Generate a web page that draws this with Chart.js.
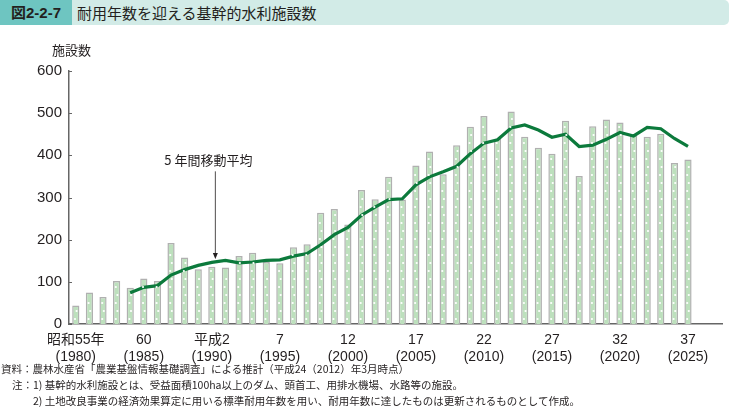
<!DOCTYPE html>
<html>
<head>
<meta charset="utf-8">
<script src="https://cdn.jsdelivr.net/npm/chart.js@4"></script>
<style>
  body { margin: 0; background: #fff; font-family: "Liberation Sans", "Noto Sans CJK JP", sans-serif; color: #231f20; }
  #wrap { position: relative; width: 730px; height: 409px; overflow: hidden; }
  #chart { position: absolute; left: 0; top: 0; }
  .hdr { position: absolute; top: 0; height: 25px; line-height: 25px; }
  #hdr-no { left: 0; width: 72px; background: #6ec5c1; font-weight: bold; font-size: 15px; text-align: center; font-family: "Liberation Sans", "Noto Sans CJK JP", sans-serif; }
  #hdr-title { left: 72px; right: 1px; background: #d2ebe7; border-radius: 0 5px 5px 0; padding-left: 5px; font-size: 15px; font-family: "Noto Sans CJK JP", sans-serif; }
  #unit { position: absolute; left: 52px; top: 40px; font-size: 13px; font-family: "Noto Sans CJK JP", sans-serif; }
  .note { position: absolute; font-size: 10.5px; white-space: nowrap; font-family: "Noto Sans CJK JP", sans-serif; line-height: 14px; }
</style>
</head>
<body>
<div id="wrap">
  <canvas id="chart" width="730" height="409"></canvas>
  <div class="hdr" id="hdr-no">図2-2-7</div>
  <div class="hdr" id="hdr-title">耐用年数を迎える基幹的水利施設数</div>
  <div id="unit">施設数</div>
  <div class="note" style="left:1px; top:362px;">資料：農林水産省「農業基盤情報基礎調査」による推計（平成24（2012）年3月時点）</div>
  <div class="note" style="left:12px; top:378px;">注：1) 基幹的水利施設とは、受益面積100ha以上のダム、頭首工、用排水機場、水路等の施設。</div>
  <div class="note" style="left:33px; top:394px;">2) 土地改良事業の経済効果算定に用いる標準耐用年数を用い、耐用年数に達したものは更新されるものとして作成。</div>
</div>
<script>
const years = [
  1980, 1981, 1982, 1983, 1984, 1985, 1986, 1987, 1988, 1989,
  1990, 1991, 1992, 1993, 1994, 1995, 1996, 1997, 1998, 1999,
  2000, 2001, 2002, 2003, 2004, 2005, 2006, 2007, 2008, 2009,
  2010, 2011, 2012, 2013, 2014, 2015, 2016, 2017, 2018, 2019,
  2020, 2021, 2022, 2023, 2024, 2025
];
const facilities = [
  44, 75, 64, 102, 86, 108, 102, 192, 158, 130,
  136, 134, 161, 169, 147, 144, 182, 189, 264, 273,
  236, 318, 296, 349, 295, 376, 409, 355, 424, 468,
  493, 439, 504, 444, 418, 404, 482, 351, 469, 485,
  478, 447, 444, 451, 382, 390
];
const movingAvg = [
  null, null, null, null, 74, 87, 91, 116, 129, 139,
  146, 151, 145, 147, 151, 152, 161, 167, 188, 212,
  229, 258, 277, 295, 297, 330, 349, 361, 374, 404,
  429, 437, 465, 472, 460, 443, 450, 421, 424, 438,
  454, 446, 466, 463, 440, 421
];
// one label every 5 years
const tickLabels = [
  ['昭和55年', '(1980)'], ['60', '(1985)'], ['平成2', '(1990)'], ['7', '(1995)'],
  ['12', '(2000)'], ['17', '(2005)'], ['22', '(2010)'], ['27', '(2015)'],
  ['32', '(2020)'], ['37', '(2025)']
];
const yTicks = [0, 100, 200, 300, 400, 500, 600];
const avgLabel = '5 年間移動平均';

// axis runs on for two empty years after 2025
const labels = years.map(String).concat(['', '']);

const FONT = '"Liberation Sans", "Noto Sans CJK JP", sans-serif';

const decoPlugin = {
  id: 'deco',
  afterDatasetsDraw(chart) {
    const ctx = chart.ctx;
    // white dots inside the bars
    const meta = chart.getDatasetMeta(1);
    ctx.save();
    ctx.fillStyle = '#ffffff';
    meta.data.forEach(bar => {
      const top = bar.y + 4, bottom = bar.base - 2;
      let k = 0;
      for (let py = bottom - 3; py > top; py -= 8) {
        const off = (k % 2 === 0) ? -0.8 : 0.8;
        ctx.beginPath();
        ctx.arc(bar.x + off, py, 1.1, 0, Math.PI * 2);
        ctx.fill();
        k++;
      }
    });
    ctx.restore();
  },
  afterDraw(chart) {
    const ctx = chart.ctx;
    const x = chart.scales.x, y = chart.scales.y;
    const area = chart.chartArea;
    ctx.save();
    // inner tick marks on the y axis
    ctx.strokeStyle = '#666';
    ctx.lineWidth = 1;
    yTicks.forEach(v => {
      const py = Math.round(y.getPixelForValue(v)) + 0.5;
      ctx.beginPath();
      ctx.moveTo(area.left, py);
      ctx.lineTo(area.left + 3, py);
      ctx.stroke();
    });
    // annotation for the moving average
    const ax = x.getPixelForValue(10) + 3.5;
    const yEnd = y.getPixelForValue(154);
    const yStart = y.getPixelForValue(362);
    ctx.strokeStyle = '#231f20';
    ctx.lineWidth = 0.8;
    ctx.beginPath();
    ctx.moveTo(ax, yStart);
    ctx.lineTo(ax, yEnd - 3);
    ctx.stroke();
    ctx.fillStyle = '#231f20';
    ctx.beginPath();
    ctx.moveTo(ax - 2.5, yEnd - 6);
    ctx.lineTo(ax + 2.5, yEnd - 6);
    ctx.lineTo(ax, yEnd);
    ctx.closePath();
    ctx.fill();
    ctx.font = '13px "Noto Sans CJK JP", sans-serif';
    ctx.textAlign = 'center';
    ctx.textBaseline = 'middle';
    ctx.fillText(avgLabel, ax - 7, y.getPixelForValue(389));
    ctx.restore();
  }
};

new Chart(document.getElementById('chart'), {
  data: {
    labels: labels,
    datasets: [
      {
        type: 'line',
        label: avgLabel,
        data: movingAvg,
        borderColor: '#0c7a3c',
        borderWidth: 3.2,
        pointRadius: 0,
        tension: 0,
        spanGaps: false,
        order: 0
      },
      {
        type: 'bar',
        label: '施設数',
        data: facilities,
        backgroundColor: '#bde0bd',
        borderColor: '#b0b0b0',
        borderWidth: { top: 1.5, left: 1.5, right: 1.5, bottom: 0 },
        categoryPercentage: 1,
        barPercentage: 0.53,
        order: 1
      }
    ]
  },
  options: {
    responsive: false,
    animation: false,
    layout: { padding: { left: 0, right: 8, top: 71, bottom: 0 } },
    plugins: { legend: { display: false }, tooltip: { enabled: false } },
    scales: {
      x: {
        grid: { display: false, drawTicks: false },
        border: { color: '#666', width: 1.5 },
        ticks: {
          autoSkip: false,
          maxRotation: 0,
          padding: 8,
          color: '#231f20',
          font: { family: FONT, size: 14, lineHeight: 1.22 },
          callback: (val, i) => (i % 5 === 0 && i / 5 < tickLabels.length) ? tickLabels[i / 5] : ''
        },
        afterFit: s => { s.height = 85; }
      },
      y: {
        min: 0,
        max: 600,
        grid: { display: false, drawTicks: false },
        border: { color: '#666', width: 1.5 },
        afterBuildTicks: s => { s.ticks = yTicks.map(v => ({ value: v })); },
        ticks: {
          padding: 7,
          color: '#231f20',
          font: { family: FONT, size: 15 }
        },
        afterFit: s => { s.width = 69; }
      }
    }
  },
  plugins: [decoPlugin]
});
</script>
</body>
</html>
